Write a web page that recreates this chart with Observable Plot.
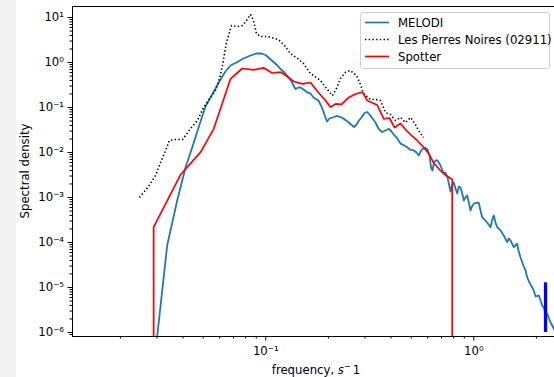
<!DOCTYPE html>
<html><head><meta charset="utf-8">
<script src="https://cdn.jsdelivr.net/npm/d3@7"></script>
<script src="https://cdn.jsdelivr.net/npm/@observablehq/plot@0.6"></script>
<style>
html,body{margin:0;padding:0;background:#fff;}
#chart svg{display:block;}
</style></head><body><div id="chart"></div>
<script>
// MELODI spectrum (frequency in s^-1, spectral density)
const melodiFreq = [0.02965,0.03357,0.0375,0.03889,0.04111,0.04429,0.04855,0.0513,0.05421,0.05731,
0.06056,0.064,0.06766,0.07229,0.07812,0.08442,0.09022,0.09535,0.09968,0.103,
0.1089,0.1138,0.1177,0.123,0.1271,0.1314,0.1359,0.1389,0.1436,0.1468,
0.1518,0.1587,0.164,0.1696,0.1792,0.1853,0.1905,0.1969,0.2024,0.2093,
0.2187,0.2286,0.2363,0.247,0.2553,0.2655,0.273,0.2806,0.2884,0.2982,
0.3073,0.3152,0.3258,0.3368,0.3482,0.3627,0.3762,0.3902,0.4021,0.4125,
0.425,0.4443,0.4592,0.4785,0.4963,0.5146,0.5303,0.544,0.5543,0.5668,
0.5859,0.599,0.6124,0.6226,0.633,0.6437,0.6545,0.6691,0.6917,0.715,
0.731,0.7474,0.7641,0.7727,0.7856,0.8014,0.8166,0.8322,0.8471,0.8632,
0.8795,0.8952,0.9122,0.9296,0.9482,0.9641,0.9802,1.0,1.03,1.057,
1.077,1.097,1.138,1.177,1.203,1.23,1.248,1.271,1.296,1.344,
1.394,1.447,1.476,1.501,1.557,1.586,1.617,1.64,1.677,1.739,
1.773,1.806,1.842,1.873,1.909,1.943,1.98,2.017,2.053,2.093,
2.132,2.171,2.212,2.254,2.299,2.338,2.382,2.425,2.471];
const melodiDensity = [4.64e-7,8.58e-5,8.58e-4,1.67e-3,4.64e-3,1.29e-2,4.89e-2,0.105,0.167,0.265,
0.419,0.631,0.858,1.0,1.227,1.431,1.585,1.585,1.468,1.292,
1.026,0.858,0.717,0.6,0.501,0.419,0.308,0.258,0.278,0.278,
0.251,0.215,0.205,0.167,0.143,0.105,0.0736,0.0489,0.057,0.06,
0.0648,0.0615,0.057,0.0489,0.043,0.0369,0.0419,0.0514,0.06,0.0755,
0.0794,0.0699,0.057,0.0464,0.0341,0.0285,0.0308,0.0336,0.0293,0.0251,
0.0215,0.0158,0.0147,0.0131,0.0114,0.0111,0.01,8.58e-3,0.0105,0.0121,
0.0126,0.0117,8.58e-3,4.64e-3,3.98e-3,6.0e-3,6.64e-3,6.64e-3,5.14e-3,3.5e-3,
3.59e-3,2.78e-3,1.75e-3,1.36e-3,1.85e-3,2.15e-3,1.58e-3,1.23e-3,1.75e-3,1.67e-3,
1.23e-3,8.58e-4,1.0e-3,1.11e-3,7.36e-4,5.14e-4,6.31e-4,7.24e-4,7.74e-4,7.55e-4,
5.14e-4,3.65e-4,3.08e-4,2.51e-4,2.19e-4,3.41e-4,3.98e-4,2.78e-4,2.19e-4,1.85e-4,
1.43e-4,1.02e-4,1.23e-4,1.11e-4,7.86e-5,8.58e-5,9.36e-5,6.64e-5,4.64e-5,2.93e-5,
2.39e-5,1.67e-5,1.36e-5,1.17e-5,1.0e-5,8.58e-6,6.31e-6,6.48e-6,6.64e-6,5.14e-6,
3.98e-6,3.59e-6,2.64e-6,2.64e-6,2.05e-6,1.69e-6,1.43e-6,1.21e-6,1.0e-6];

// Les Pierres Noires (02911)
const pierresFreq = [0.0247,0.0273,0.0295,0.0312,0.033,0.0344,0.0368,0.0398,0.0435,0.0469,
0.0502,0.0542,0.0573,0.0599,0.0619,0.0647,0.0684,0.0731,0.0773,0.0808,
0.0844,0.0873,0.0902,0.0943,0.1019,0.1151,0.123,0.1314,0.1421,0.1518,
0.164,0.1832,0.1958,0.2093,0.2187,0.2286,0.2411,0.2548,0.273,0.2853,
0.2948,0.3187,0.3368,0.3559,0.3762,0.3977,0.4203,0.4443,0.4695,0.4963,
0.5245,0.5421,0.573];
const pierresDensity = [1e-3,1.75e-3,3.08e-3,6e-3,1.11e-2,1.85e-2,1.94e-2,1.94e-2,3.41e-2,5.14e-2,
0.1,0.167,0.239,0.441,0.858,2.78,6.64,6.31,6.64,8.58,
11.7,8.58,4.41,3.78,3.78,3.24,2.39,1.58,1.23,0.95,
0.57,0.398,0.265,0.185,0.265,0.441,0.6,0.664,0.514,0.325,
0.205,0.151,0.151,0.143,0.0774,0.0699,0.0514,0.06,0.0464,0.06,
0.0419,0.0308,0.0215];

// Spotter (drops to zero outside its band)
const spotterFreq = [0.0289,0.0289,0.0389,0.0486,0.0562,0.0617,0.0677,0.077,0.0876,0.0975,
0.1073,0.1177,0.1221,0.1364,0.1501,0.164,0.1798,0.1936,0.2047,0.2163,
0.2312,0.2506,0.2699,0.2917,0.3073,0.3432,0.3693,0.3933,0.4157,0.4443,
0.4747,0.4963,0.5344,0.5749,0.6076,0.64,0.6787,0.731,0.7874,0.7874];
const spotterDensity = [1e-9,2.19e-4,3.2e-3,1.02e-2,3.36e-2,0.121,0.434,0.736,0.688,0.762,
0.585,0.609,0.555,0.378,0.336,0.359,0.21,0.143,0.102,0.12,
0.117,0.167,0.2,0.219,0.143,0.114,0.0561,0.0585,0.0359,0.0441,
0.0308,0.0251,0.0185,0.0129,9.36e-3,6.0e-3,4.34e-3,3.16e-3,2.51e-3,1e-9];

// blue marker bar
const markerFreq = [2.212];
const markerLow = [1.0e-6];
const markerHigh = [1.27e-5];

const legendNames = ["MELODI", "Les Pierres Noires (02911)", "Spotter"];

const xMajor = [0.1, 1];
const xMinor = [0.02,0.03,0.04,0.05,0.06,0.07,0.08,0.09,0.2,0.3,0.4,0.5,0.6,0.7,0.8,0.9,2];
const yMajor = [1e-6,1e-5,1e-4,1e-3,1e-2,1e-1,1,10];
const yMinor = [];
for (const d of [1e-7,1e-6,1e-5,1e-4,1e-3,1e-2,1e-1,1]) for (let k = 2; k <= 9; k++) yMinor.push(k * d);

const xDomain = [0.01177, 2.443];
const yDomain = [8.15e-7, 17.56];

const supMap = {"-":"\u207B","0":"\u2070","1":"\u00B9","2":"\u00B2","3":"\u00B3","4":"\u2074","5":"\u2075","6":"\u2076","7":"\u2077","8":"\u2078","9":"\u2079"};
const pow10 = v => "10" + String(Math.round(Math.log10(v))).split("").map(c => supMap[c]).join("");

const rows = (f, s) => f.map((v, i) => ({f: v, s: s[i]}));
const DOTS = "1.4,2.3";
const FS = 11.7;

const chart = Plot.plot({
  width: 554, height: 377,
  marginLeft: 72, marginRight: 0, marginTop: 6, marginBottom: 41,
  style: {fontFamily: "DejaVu Sans", fontSize: FS + "px", background: "transparent", color: "#000"},
  x: {type: "log", domain: xDomain},
  y: {type: "log", domain: yDomain},
  marks: [
    Plot.axisY(yMinor.filter(v => v >= yDomain[0] && v <= yDomain[1]), {tickSize: 2.5, tickFormat: () => "", label: null}),
    Plot.axisY(yMajor, {tickSize: 4.5, tickPadding: 4, tickFormat: pow10, label: null, fontSize: FS}),
    Plot.axisX(xMinor, {tickSize: 2.5, tickFormat: () => "", label: null}),
    Plot.axisX(xMajor, {tickSize: 4.5, tickPadding: 6, tickFormat: pow10, label: null, fontSize: FS}),
    Plot.line(rows(melodiFreq, melodiDensity), {x: "f", y: "s", stroke: "#1f77b4", strokeWidth: 1.8, clip: true}),
    Plot.line(rows(pierresFreq, pierresDensity), {x: "f", y: "s", stroke: "#000", strokeWidth: 1.6, strokeDasharray: DOTS, strokeLinecap: "butt", strokeLinejoin: "miter", clip: true}),
    Plot.line(rows(spotterFreq, spotterDensity), {x: "f", y: "s", stroke: "#ff0000", strokeWidth: 1.7, clip: true}),
    Plot.ruleX(markerFreq.map((f, i) => ({f, lo: markerLow[i], hi: markerHigh[i]})), {x: "f", y1: "lo", y2: "hi", stroke: "#0000ff", strokeWidth: 3.3}),
    Plot.ruleY([yDomain[0]], {stroke: "#000", strokeWidth: 1}),
    Plot.ruleY([yDomain[1]], {stroke: "#000", strokeWidth: 1}),
    Plot.ruleX([xDomain[0]], {stroke: "#000", strokeWidth: 1})
  ]
});
document.getElementById("chart").appendChild(chart);

const svg = d3.select(chart);
// page background strip on the left
svg.insert("rect", ":first-child").attr("x", 0).attr("y", 0).attr("width", 16).attr("height", 377).attr("fill", "#f2f2f2");

// axis labels
svg.append("text").attr("transform", "translate(29,171) rotate(-90)")
  .attr("text-anchor", "middle").attr("font-family", "DejaVu Sans").attr("font-size", FS)
  .attr("fill", "#000").text("Spectral density");
const xl = svg.append("text").attr("x", 316).attr("y", 374)
  .attr("text-anchor", "middle").attr("font-family", "DejaVu Sans").attr("font-size", FS).attr("fill", "#000");
xl.append("tspan").text("frequency, ");
xl.append("tspan").attr("font-style", "italic").text("s");
xl.append("tspan").attr("font-size", 8.2).attr("dy", -4.8).text("\u2212");
xl.append("tspan").attr("dy", 4.8).attr("dx", 2).text("1");

// legend
const lg = svg.append("g").attr("text-anchor", "start");
lg.append("rect").attr("x", 360.5).attr("y", 12.5).attr("width", 189).attr("height", 56).attr("rx", 2.5)
  .attr("fill", "#fff").attr("fill-opacity", 0.8).attr("stroke", "#d0d0d0");
const legendStyles = [
  {stroke: "#1f77b4", dash: null},
  {stroke: "#000", dash: DOTS},
  {stroke: "#ff0000", dash: null}
];
legendNames.forEach((name, i) => {
  const y = 22.5 + i * 17;
  const ln = lg.append("line").attr("x1", 365).attr("x2", 389).attr("y1", y).attr("y2", y)
    .attr("stroke", legendStyles[i].stroke).attr("stroke-width", 1.7);
  if (legendStyles[i].dash) ln.attr("stroke-dasharray", legendStyles[i].dash).attr("stroke-linecap", "butt");
  lg.append("text").attr("x", 398).attr("y", y).attr("dy", "0.35em").attr("text-anchor", "start")
    .attr("font-family", "DejaVu Sans").attr("font-size", FS).attr("fill", "#000").text(name);
});
</script>
</body></html>
